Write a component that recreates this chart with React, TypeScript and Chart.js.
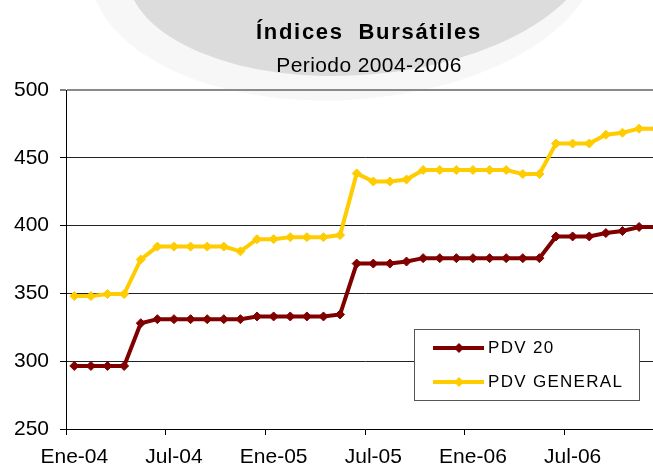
import React, { useEffect, useRef } from "react";
import { Chart, registerables } from "chart.js";

Chart.register(...registerables);

// ---------- data ----------
const months = [
  "Ene-04", "Feb-04", "Mar-04", "Abr-04", "May-04", "Jun-04",
  "Jul-04", "Ago-04", "Sep-04", "Oct-04", "Nov-04", "Dic-04",
  "Ene-05", "Feb-05", "Mar-05", "Abr-05", "May-05", "Jun-05",
  "Jul-05", "Ago-05", "Sep-05", "Oct-05", "Nov-05", "Dic-05",
  "Ene-06", "Feb-06", "Mar-06", "Abr-06", "May-06", "Jun-06",
  "Jul-06", "Ago-06", "Sep-06", "Oct-06", "Nov-06", "Dic-06",
];

const pdv20 = [
  296.5, 296.5, 296.5, 296.5, 328, 331, 331, 331, 331, 331, 331, 333,
  333, 333, 333, 333, 334.5, 372, 372, 372, 373.5, 376, 376, 376,
  376, 376, 376, 376, 376, 392, 392, 392, 394.5, 396, 399, 399,
];

const pdvGeneral = [
  348, 348, 349.5, 349.5, 375, 384.5, 384.5, 384.5, 384.5, 384.5, 381, 390,
  390, 391.5, 391.5, 391.5, 393, 438.5, 432.5, 432.5, 434, 441, 441, 441,
  441, 441, 441, 438, 438, 460.5, 460.5, 460.5, 467, 468.5, 471.5, 471.5,
];

const seriesNames = ["PDV 20", "PDV GENERAL"];
const titleText = "Índices Bursátiles";
const subtitleText = "Periodo 2004-2006";
const yMin = 250;
const yMax = 500;
const yStep = 50;
const labelEvery = 6;

// ---------- styles ----------
const FONT = '"Liberation Sans", Arial, Helvetica, sans-serif';
const COLORS = ["#800000", "#FFCC00"];
const CANVAS_W = 680;
const CANVAS_H = 470;

function drawDiamond(ctx: CanvasRenderingContext2D, x: number, y: number, r: number, color: string) {
  ctx.beginPath();
  ctx.moveTo(x, y - r);
  ctx.lineTo(x + r, y);
  ctx.lineTo(x, y + r);
  ctx.lineTo(x - r, y);
  ctx.closePath();
  ctx.fillStyle = color;
  ctx.fill();
}

const decorPlugin = {
  id: "decor",
  beforeDraw(chart: any) {
    const ctx: CanvasRenderingContext2D = chart.ctx;
    ctx.save();
    ctx.fillStyle = "#ffffff";
    ctx.fillRect(0, 0, chart.width, chart.height);
    // faint halo
    ctx.fillStyle = "#f7f7f7";
    ctx.beginPath();
    ctx.ellipse(345, -40, 255, 140, -0.06, 0, Math.PI * 2);
    ctx.fill();
    // gray banner
    ctx.fillStyle = "#dcdcdc";
    ctx.beginPath();
    ctx.ellipse(360, -45, 235, 120, -0.08, 0, Math.PI * 2);
    ctx.fill();
    ctx.restore();
  },
  afterDraw(chart: any) {
    const ctx: any = chart.ctx;
    ctx.save();
    // title
    ctx.fillStyle = "#000";
    ctx.textAlign = "left";
    ctx.textBaseline = "alphabetic";
    ctx.font = `bold 22px ${FONT}`;
    ctx.letterSpacing = "1.7px";
    ctx.wordSpacing = "7px";
    ctx.fillText(titleText, 256, 39);
    ctx.wordSpacing = "0px";
    ctx.textAlign = "center";
    ctx.font = `21px ${FONT}`;
    ctx.letterSpacing = "0.4px";
    ctx.fillText(subtitleText, 369, 72);

    // legend box
    const bx = 414, by = 329, bw = 225, bh = 71;
    ctx.letterSpacing = "0px";
    ctx.fillStyle = "#ffffff";
    ctx.fillRect(bx, by, bw, bh);
    ctx.strokeStyle = "#555";
    ctx.lineWidth = 1;
    ctx.strokeRect(bx + 0.5, by + 0.5, bw, bh);

    const rows = [348, 382];
    seriesNames.forEach((name, i) => {
      const y = rows[i];
      ctx.strokeStyle = COLORS[i];
      ctx.lineWidth = 4;
      ctx.beginPath();
      ctx.moveTo(433, y);
      ctx.lineTo(484, y);
      ctx.stroke();
      drawDiamond(ctx, 459, y, 5, COLORS[i]);
      ctx.fillStyle = "#000";
      ctx.textAlign = "left";
      ctx.font = `17px ${FONT}`;
      ctx.letterSpacing = "1.3px";
      ctx.fillText(name, 488, y + 5);
    });
    ctx.restore();
  },
};

export default function App() {
  const canvasRef = useRef<HTMLCanvasElement | null>(null);

  useEffect(() => {
    const canvas = canvasRef.current;
    if (!canvas) return;
    const series = [pdv20, pdvGeneral];
    const chart = new Chart(canvas, {
      type: "line",
      data: {
        labels: months,
        datasets: series.map((values, i) => ({
          label: seriesNames[i],
          data: values,
          borderColor: COLORS[i],
          backgroundColor: COLORS[i],
          borderWidth: 4,
          tension: 0,
          pointStyle: "rectRot",
          pointRadius: 4.5,
          pointBorderWidth: 1,
          pointBackgroundColor: COLORS[i],
          pointBorderColor: COLORS[i],
          fill: false,
        })),
      },
      options: {
        animation: false,
        responsive: false,
        devicePixelRatio: 1,
        layout: { padding: { top: 90, right: CANVAS_W - 664, bottom: 0, left: 0 } },
        plugins: {
          legend: { display: false },
          title: { display: false },
          tooltip: { enabled: false },
        },
        scales: {
          x: {
            type: "category",
            offset: true,
            afterFit: (s: any) => { s.height = 41; },
            border: { display: true, color: "#000", width: 1 },
            grid: {
              offset: true,
              drawOnChartArea: false,
              drawTicks: true,
              tickLength: 6,
              tickWidth: 1,
              tickColor: (c: any) => (c.index % labelEvery === 0 ? "#000" : "rgba(0,0,0,0)"),
            },
            ticks: {
              autoSkip: false,
              maxRotation: 0,
              minRotation: 0,
              padding: 10,
              color: "#000",
              font: { family: FONT, size: 21 },
              callback: (_v: any, idx: number) => (idx % labelEvery === 0 ? months[idx] : ""),
            },
          },
          y: {
            min: yMin,
            max: yMax,
            afterFit: (s: any) => { s.width = 66; },
            border: { display: true, color: "#000", width: 1 },
            grid: {
              color: (c: any) => (c.tick && c.tick.value === yMax ? "#8a8a8a" : "#222"),
              lineWidth: (c: any) => (c.tick && c.tick.value === yMax ? 2 : 1),
              drawTicks: true,
              tickLength: 6,
              tickColor: "#000",
              tickWidth: 1,
            },
            ticks: {
              stepSize: yStep,
              padding: 11,
              color: "#000",
              font: { family: FONT, size: 21 },
            },
          },
        },
      },
      plugins: [decorPlugin],
    });
    return () => chart.destroy();
  }, []);

  return (
    <div
      style={{
        position: "fixed",
        left: 0,
        top: 0,
        width: 653,
        height: 470,
        overflow: "hidden",
        background: "#fff",
      }}
    >
      <canvas
        ref={canvasRef}
        width={CANVAS_W}
        height={CANVAS_H}
        style={{ display: "block", width: CANVAS_W, height: CANVAS_H }}
      />
    </div>
  );
}
